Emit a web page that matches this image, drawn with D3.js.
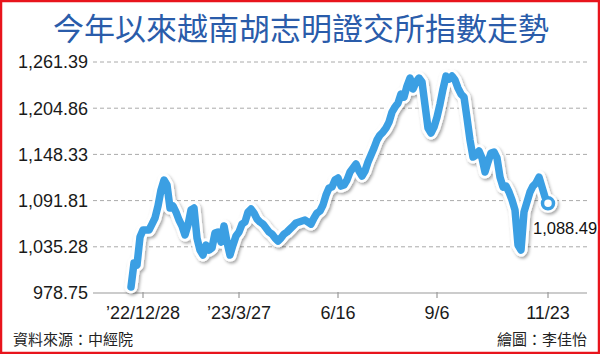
<!DOCTYPE html>
<html>
<head>
<meta charset="utf-8">
<script src="https://cdn.jsdelivr.net/npm/d3@7"></script>
<style>
  body { margin: 0; background: #fff; }
  svg { display: block; font-family: 'Liberation Sans', Arial, sans-serif; }
</style>
</head>
<body>
<div class="vis-linechart"></div>
<script>
const title = '今年以來越南胡志明證交所指數走勢';
const source = '資料來源：中經院';
const credit = '繪圖：李佳怡';

// VN-Index (one value every ~3px of the original)
const values = [
  986.1, 1015.4, 1013.0, 1047.2, 1055.8, 1055.8, 1055.8, 1063.1, 1070.5, 1085.2,
  1104.7, 1117.0, 1110.9, 1082.7, 1085.2, 1077.8, 1068.0, 1060.7, 1049.7, 1061.9,
  1080.3, 1082.7, 1046.0, 1031.3, 1025.2, 1037.5, 1031.3, 1033.8, 1052.1, 1053.4,
  1041.1, 1060.7, 1041.1, 1025.2, 1037.5, 1048.5, 1053.4, 1063.1, 1065.6, 1077.8,
  1081.5, 1076.6, 1069.3, 1065.6, 1063.1, 1058.3, 1053.4, 1050.9, 1046.0, 1042.4,
  1046.0, 1050.9, 1053.4, 1057.0, 1060.7, 1064.4, 1065.6, 1066.8, 1068.0, 1065.6,
  1063.1, 1070.5, 1076.6, 1079.1, 1086.4, 1098.6, 1107.2, 1108.4, 1117.0, 1119.4,
  1109.6, 1110.9, 1117.0, 1126.8, 1131.6, 1136.5, 1128.0, 1121.9, 1128.0, 1139.0,
  1147.5, 1156.1, 1165.9, 1172.0, 1175.7, 1180.6, 1187.9, 1200.1, 1206.3, 1211.1,
  1222.2, 1218.5, 1231.9, 1241.7, 1228.3, 1236.8, 1241.7, 1236.8, 1208.7, 1180.6,
  1174.5, 1181.8, 1194.0, 1209.9, 1228.3, 1244.2, 1240.5, 1244.2, 1239.3, 1229.5,
  1222.2, 1218.5, 1192.8, 1165.9, 1145.1, 1147.5, 1152.4, 1143.9, 1126.8, 1139.0,
  1150.0, 1151.2, 1143.9, 1120.6, 1108.4, 1109.6, 1102.3, 1092.5, 1080.3, 1037.5,
  1031.3, 1077.8, 1090.1, 1102.3, 1109.6, 1113.3, 1120.6, 1108.4, 1096.2, 1088.49,
];

const yTicks = [978.75, 1035.28, 1091.81, 1148.33, 1204.86, 1261.39];
const xTickLabels = ['\u201922/12/28', '\u201923/3/27', '6/16', '9/6', '11/23'];
const xTickIndex = [4, 36, 69, 102, 139];

const width = 600;
const height = 354;
const margin = {
  top: 62, right: 13, bottom: 61, left: 93,
};

const svg = d3.select('.vis-linechart')
  .append('svg')
  .attr('width', width)
  .attr('height', height);

const defs = svg.append('defs');
defs.append('filter')
  .attr('id', 'shadow')
  .attr('x', '-10%').attr('y', '-10%')
  .attr('width', '120%').attr('height', '120%')
  .append('feDropShadow')
  .attr('dx', 1.5)
  .attr('dy', 2)
  .attr('stdDeviation', 1.6)
  .attr('flood-color', '#000')
  .attr('flood-opacity', 0.35);

svg.append('rect')
  .attr('x', 1).attr('y', 1)
  .attr('width', width - 2).attr('height', height - 2)
  .attr('fill', '#fff')
  .attr('stroke', '#e8141c')
  .attr('stroke-width', 2.5);

svg.append('text')
  .attr('x', 301)
  .attr('y', 40)
  .attr('text-anchor', 'middle')
  .attr('font-family', "'Noto Sans CJK TC', sans-serif")
  .attr('font-size', 31)
  .attr('fill', '#2a5caa')
  .text(title);

const x = d3.scaleLinear()
  .domain([0, values.length - 1])
  .range([131, 548]);

const y = d3.scaleLinear()
  .domain([yTicks[0], yTicks[yTicks.length - 1]])
  .range([height - margin.bottom, margin.top]);

// grid
svg.append('g')
  .selectAll('line')
  .data(yTicks.slice(1))
  .enter()
  .append('line')
  .attr('x1', margin.left)
  .attr('x2', width - margin.right)
  .attr('y1', (d) => y(d))
  .attr('y2', (d) => y(d))
  .attr('stroke', '#aaa')
  .attr('stroke-width', 1)
  .attr('stroke-dasharray', '4,3');

svg.append('g')
  .selectAll('text')
  .data(yTicks)
  .enter()
  .append('text')
  .attr('x', 88)
  .attr('y', (d) => y(d))
  .attr('dy', '0.36em')
  .attr('text-anchor', 'end')
  .attr('font-size', 18)
  .attr('fill', '#1a1a1a')
  .text((d) => d3.format(',.2f')(d));

// x axis
const xAxis = svg.append('g');
xAxis.append('line')
  .attr('x1', margin.left)
  .attr('x2', width - margin.right)
  .attr('y1', y(yTicks[0]))
  .attr('y2', y(yTicks[0]))
  .attr('stroke', '#999')
  .attr('stroke-width', 1.2);

xAxis.selectAll('.tick')
  .data(xTickIndex)
  .enter()
  .append('line')
  .attr('x1', (d) => x(d))
  .attr('x2', (d) => x(d))
  .attr('y1', y(yTicks[0]) - 1)
  .attr('y2', y(yTicks[0]) + 5)
  .attr('stroke', '#999')
  .attr('stroke-width', 1.2);

xAxis.selectAll('text')
  .data(xTickIndex)
  .enter()
  .append('text')
  .attr('x', (d) => x(d))
  .attr('y', 319)
  .attr('text-anchor', 'middle')
  .attr('font-size', 18)
  .attr('fill', '#1a1a1a')
  .text((d, i) => xTickLabels[i]);

// index line
const line = d3.line()
  .x((d, i) => x(i))
  .y((d) => y(d));

const last = values.length - 1;
const plot = svg.append('g').attr('filter', 'url(#shadow)');

plot.append('path')
  .datum(values)
  .attr('d', line)
  .attr('fill', 'none')
  .attr('stroke', '#fff')
  .attr('stroke-width', 13)
  .attr('stroke-linejoin', 'round')
  .attr('stroke-linecap', 'round');

plot.append('circle')
  .attr('cx', x(last))
  .attr('cy', y(values[last]))
  .attr('r', 9.5)
  .attr('fill', '#fff');

plot.append('path')
  .datum(values)
  .attr('d', line)
  .attr('fill', 'none')
  .attr('stroke', '#3b9fe3')
  .attr('stroke-width', 7.5)
  .attr('stroke-linejoin', 'round')
  .attr('stroke-linecap', 'round');

plot.append('circle')
  .attr('cx', x(last))
  .attr('cy', y(values[last]))
  .attr('r', 5.5)
  .attr('fill', '#fff')
  .attr('stroke', '#3b9fe3')
  .attr('stroke-width', 3.5);

svg.append('text')
  .attr('x', 533)
  .attr('y', 234)
  .attr('font-size', 16.5)
  .attr('fill', '#111')
  .attr('stroke', '#fff')
  .attr('stroke-width', 3)
  .attr('paint-order', 'stroke')
  .text(d3.format(',.2f')(values[last]));

// footer
svg.append('text')
  .attr('x', 13)
  .attr('y', 345)
  .attr('font-family', "'Noto Sans CJK TC', sans-serif")
  .attr('font-size', 15)
  .attr('fill', '#222')
  .text(source);

svg.append('text')
  .attr('x', 587)
  .attr('y', 345)
  .attr('text-anchor', 'end')
  .attr('font-family', "'Noto Sans CJK TC', sans-serif")
  .attr('font-size', 15)
  .attr('fill', '#222')
  .text(credit);
</script>
</body>
</html>
